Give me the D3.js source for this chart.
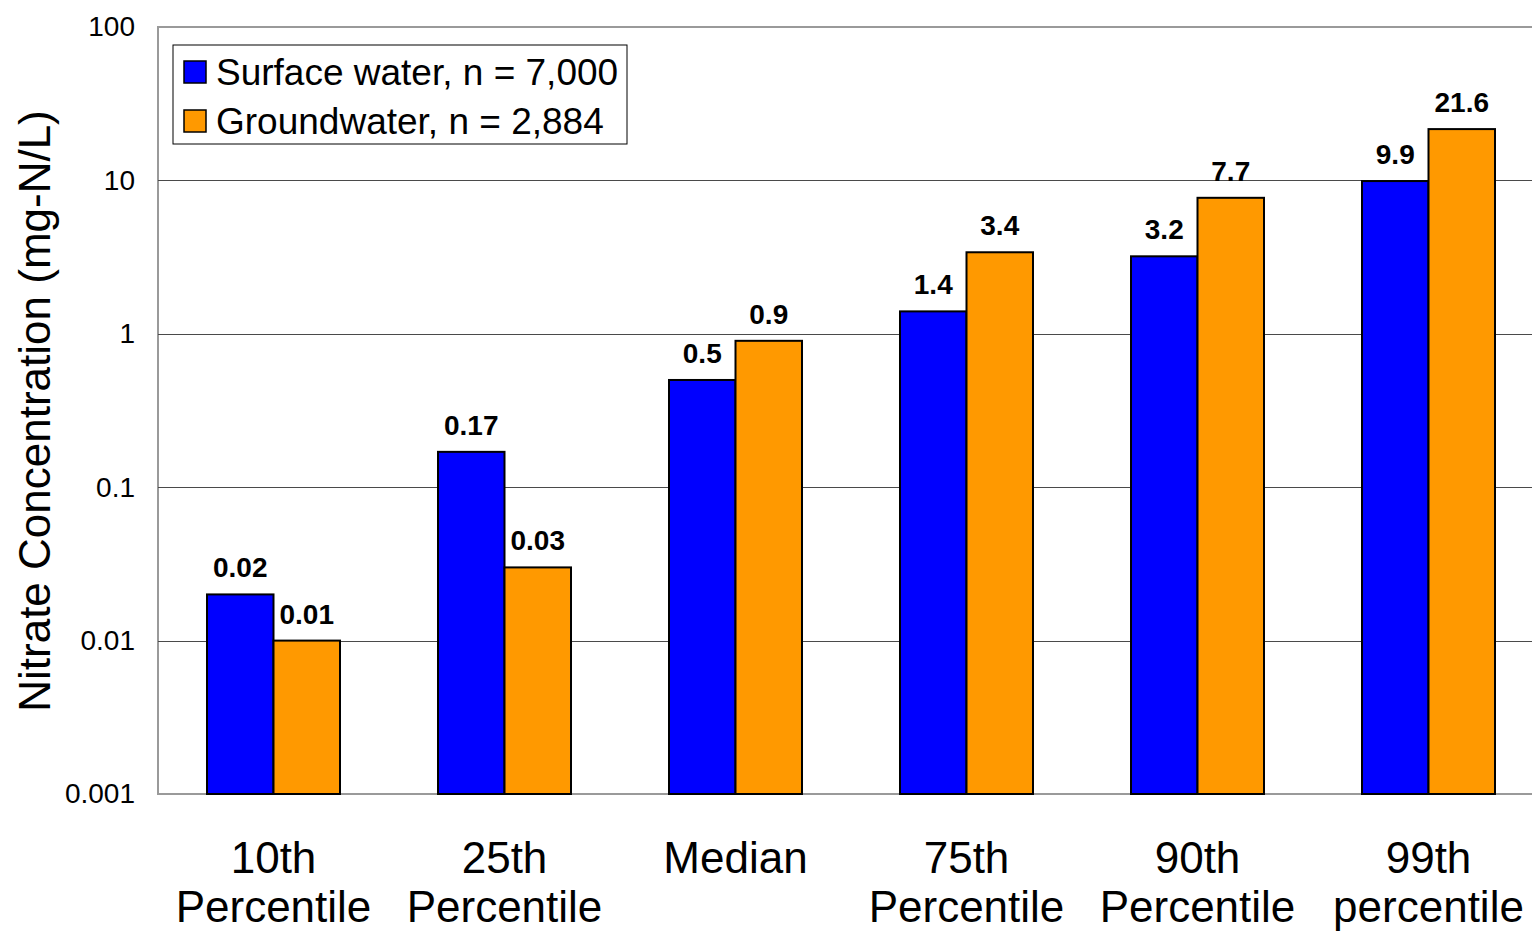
<!DOCTYPE html>
<html>
<head>
<meta charset="utf-8">
<script src="https://cdn.jsdelivr.net/npm/d3@7"></script>
<style>
  html, body { margin: 0; padding: 0; background: #fff; overflow: hidden; }
  svg { display: block; font-family: "Liberation Sans", Arial, sans-serif; }
</style>
</head>
<body>
<svg id="chart" width="1532" height="931"></svg>
<script>
// Nitrate concentration percentiles, surface water vs groundwater
const categories = ["10th|Percentile", "25th|Percentile", "Median", "75th|Percentile", "90th|Percentile", "99th|percentile"];
const seriesNames = ["Surface water, n = 7,000", "Groundwater, n = 2,884"];
const surfaceWater = [0.02, 0.17, 0.5, 1.4, 3.2, 9.9];
const groundwater = [0.01, 0.03, 0.9, 3.4, 7.7, 21.6];
const yTickValues = [0.001, 0.01, 0.1, 1, 10, 100];
const yTickLabels = ["0.001", "0.01", "0.1", "1", "10", "100"];
const seriesColors = ["#0000ff", "#ff9900"];

const svg = d3.select("#chart");
const plot = { left: 158, top: 27, right: 1544, bottom: 794 };

const x0 = d3.scaleBand()
  .domain(categories)
  .range([plot.left, plot.right])
  .paddingInner(98 / 231)
  .paddingOuter(49 / 231);

const x1 = d3.scaleBand()
  .domain(seriesNames)
  .range([0, x0.bandwidth()]);

const y = d3.scaleLog()
  .domain([0.001, 100])
  .range([plot.bottom, plot.top]);

const color = d3.scaleOrdinal().domain(seriesNames).range(seriesColors);

// Plot area frame
svg.append("rect")
  .attr("x", plot.left).attr("y", plot.top)
  .attr("width", plot.right - plot.left).attr("height", plot.bottom - plot.top)
  .attr("fill", "#fff").attr("stroke", "#9a9a9a").attr("stroke-width", 2);

// Decade gridlines
svg.append("g")
  .selectAll("line")
  .data(yTickValues.slice(1, -1))
  .join("line")
  .attr("x1", plot.left).attr("x2", plot.right)
  .attr("y1", d => Math.round(y(d)) + 0.5).attr("y2", d => Math.round(y(d)) + 0.5)
  .attr("stroke", "#4a4a4a").attr("stroke-width", 1);

// Y axis labels
const yAxis = svg.append("g")
  .attr("transform", `translate(${plot.left},0)`)
  .call(d3.axisLeft(y).tickValues(yTickValues).tickFormat((d, i) => yTickLabels[i]).tickSize(0).tickPadding(23));
yAxis.select(".domain").remove();
yAxis.selectAll("text")
  .attr("font-size", 28).attr("fill", "#000")
  .attr("font-family", "'Liberation Sans', Arial, sans-serif");

// Bars
const rows = categories.map((c, i) => ({ cat: c, vals: [surfaceWater[i], groundwater[i]] }));
const groups = svg.append("g")
  .selectAll("g")
  .data(rows)
  .join("g")
  .attr("transform", d => `translate(${x0(d.cat)},0)`);

const barData = d => seriesNames.map((s, k) => ({ series: s, value: d.vals[k] }));

groups.selectAll("rect")
  .data(barData)
  .join("rect")
  .attr("x", d => x1(d.series))
  .attr("y", d => y(d.value))
  .attr("width", x1.bandwidth())
  .attr("height", d => plot.bottom - y(d.value))
  .attr("fill", d => color(d.series))
  .attr("stroke", "#000").attr("stroke-width", 2);

groups.selectAll("text.value")
  .data(barData)
  .join("text")
  .attr("class", "value")
  .attr("x", d => x1(d.series) + x1.bandwidth() / 2)
  .attr("y", d => y(d.value) - 17)
  .attr("text-anchor", "middle")
  .attr("font-size", 28).attr("font-weight", "bold")
  .text(d => String(d.value));

// Category labels
const xAxis = svg.append("g")
  .attr("transform", `translate(0,${plot.bottom})`)
  .call(d3.axisBottom(x0).tickSize(0).tickFormat(""));
xAxis.select(".domain").remove();
xAxis.selectAll(".tick").each(function (d) {
  const t = d3.select(this).append("text")
    .attr("text-anchor", "middle")
    .attr("font-size", 44).attr("fill", "#000")
    .attr("font-family", "'Liberation Sans', Arial, sans-serif");
  d.split("|").forEach((line, i) => {
    t.append("tspan").attr("x", 0).attr("y", 79 + i * 49).text(line);
  });
});

// Y axis title
svg.append("text")
  .attr("transform", "translate(50,411) rotate(-90)")
  .attr("text-anchor", "middle")
  .attr("font-size", 44)
  .text("Nitrate Concentration (mg-N/L)");

// Legend
const legend = svg.append("g").attr("transform", "translate(173,45)");
legend.append("rect")
  .attr("width", 454).attr("height", 99)
  .attr("fill", "#fff").attr("stroke", "#000").attr("stroke-width", 1);
const items = legend.selectAll("g")
  .data(seriesNames)
  .join("g")
  .attr("transform", (d, i) => `translate(0,${27 + i * 49})`);
items.append("rect")
  .attr("x", 11).attr("y", -11).attr("width", 22).attr("height", 22)
  .attr("fill", d => color(d)).attr("stroke", "#000").attr("stroke-width", 1.5);
items.append("text")
  .attr("x", 43).attr("y", 13)
  .attr("font-size", 37)
  .text(d => d);
</script>
</body>
</html>
